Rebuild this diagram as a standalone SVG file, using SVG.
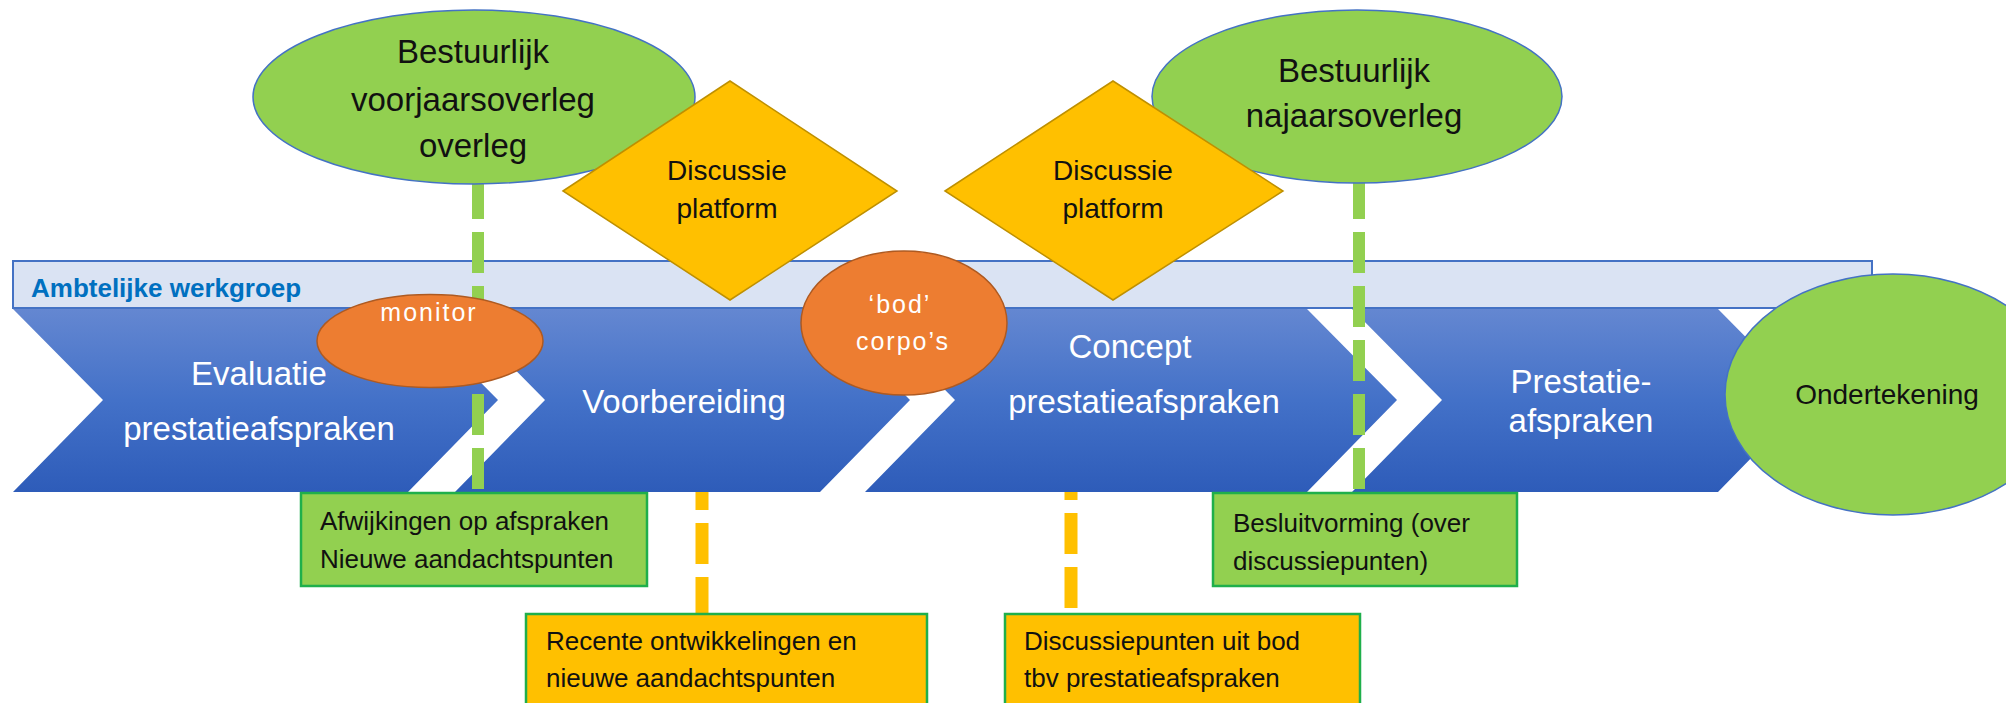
<svg xmlns="http://www.w3.org/2000/svg" width="2006" height="703" viewBox="0 0 2006 703">
<style>
  text { font-family: "Liberation Sans", Arial, sans-serif; }
  .green { fill: #92D050; stroke: #4472C4; stroke-width: 1.5; }
  .orange { fill: #ED7D31; stroke: #AE5A21; stroke-width: 1.5; }
  .diamond { fill: #FFC000; stroke: #BF9000; stroke-width: 1.5; }
  .chev { fill: url(#chevGrad); }
  .band { fill: #DAE3F3; stroke: #4472C4; stroke-width: 2; }
  .gbox { fill: #92D050; stroke: #1FAF4B; stroke-width: 2.5; }
  .ybox { fill: #FFC000; stroke: #1FAF4B; stroke-width: 2.5; }
  .title { font-size: 33px; fill: #111; text-anchor: middle; }
  .ctext { font-size: 33px; fill: #FFFFFF; text-anchor: middle; }
  .dtext { font-size: 28px; fill: #111; text-anchor: middle; }
  .otext { font-size: 25px; fill: #FFFFFF; text-anchor: middle; letter-spacing: 2px; }
  .btext { font-size: 26px; fill: #111; }
  .gline { stroke: #92D050; stroke-width: 12; stroke-dasharray: 41 13; fill: none; }
  .yline { stroke: #FFC000; stroke-width: 13; stroke-dasharray: 41 13; fill: none; }
</style>
<defs>
  <linearGradient id="chevGrad" gradientUnits="userSpaceOnUse" x1="0" y1="309" x2="0" y2="492">
    <stop offset="0" stop-color="#6487D1"/>
    <stop offset="0.5" stop-color="#4371C8"/>
    <stop offset="1" stop-color="#2E5CB9"/>
  </linearGradient>
</defs>
<rect width="2006" height="703" fill="#FFFFFF"/>

<g id="band">
  <rect class="band" x="13" y="261" width="1859" height="47"/>
  <text x="31" y="297" font-size="26" font-weight="bold" fill="#0070C0">Ambtelijke werkgroep</text>
</g>

<g id="chevron-evaluatie">
  <polygon class="chev" points="13,309 408,309 498,400 408,492 13,492 103,400"/>
  <text class="ctext" x="259" y="385">Evaluatie</text>
  <text class="ctext" x="259" y="440">prestatieafspraken</text>
</g>
<g id="chevron-voorbereiding">
  <polygon class="chev" points="455,309 820,309 910,400 820,492 455,492 545,400"/>
  <text class="ctext" x="684" y="413">Voorbereiding</text>
</g>
<g id="chevron-concept">
  <polygon class="chev" points="865,309 1307,309 1397,400 1307,492 865,492 955,400"/>
  <text class="ctext" x="1130" y="358">Concept</text>
  <text class="ctext" x="1144" y="413">prestatieafspraken</text>
</g>
<g id="chevron-prestatieafspraken">
  <polygon class="chev" points="1352,309 1718,309 1808,400 1718,492 1352,492 1442,400"/>
  <text class="ctext" x="1581" y="393">Prestatie-</text>
  <text class="ctext" x="1581" y="432">afspraken</text>
</g>

<g id="connectors">
  <line class="gline" x1="478" y1="178" x2="478" y2="489"/>
  <line class="gline" x1="1359" y1="178" x2="1359" y2="489"/>
  <line class="yline" x1="702" y1="492" x2="702" y2="614" stroke-dashoffset="23"/>
  <line class="yline" x1="1071" y1="492" x2="1071" y2="614" stroke-dashoffset="33"/>
</g>

<g id="voorjaarsoverleg">
  <ellipse class="green" cx="474" cy="97" rx="221" ry="87"/>
  <text class="title" x="473" y="63">Bestuurlijk</text>
  <text class="title" x="473" y="111">voorjaarsoverleg</text>
  <text class="title" x="473" y="157">overleg</text>
</g>
<g id="najaarsoverleg">
  <ellipse class="green" cx="1357" cy="96.5" rx="205" ry="86.5"/>
  <text class="title" x="1354" y="82">Bestuurlijk</text>
  <text class="title" x="1354" y="127">najaarsoverleg</text>
</g>

<g id="discussie-1">
  <polygon class="diamond" points="563,191 730,81 897,191 730,300"/>
  <text class="dtext" x="727" y="180">Discussie</text>
  <text class="dtext" x="727" y="218">platform</text>
</g>
<g id="discussie-2">
  <polygon class="diamond" points="945,191 1113,81 1283,191 1113,300"/>
  <text class="dtext" x="1113" y="180">Discussie</text>
  <text class="dtext" x="1113" y="218">platform</text>
</g>

<g id="monitor">
  <ellipse class="orange" cx="430" cy="341" rx="113" ry="46.5"/>
  <text class="otext" x="429" y="321">monitor</text>
</g>
<g id="bod">
  <ellipse class="orange" cx="904" cy="323" rx="103" ry="72"/>
  <text class="otext" x="900" y="313">‘bod’</text>
  <text class="otext" x="903" y="350">corpo’s</text>
</g>

<g id="ondertekening">
  <ellipse class="green" cx="1893" cy="394.5" rx="168" ry="120.5"/>
  <text class="dtext" x="1887" y="404">Ondertekening</text>
</g>

<g id="afwijkingen">
  <rect class="gbox" x="301" y="493" width="346" height="93"/>
  <text class="btext" x="320" y="530">Afwijkingen op afspraken</text>
  <text class="btext" x="320" y="568">Nieuwe aandachtspunten</text>
</g>
<g id="besluitvorming">
  <rect class="gbox" x="1213" y="493" width="304" height="93"/>
  <text class="btext" x="1233" y="532">Besluitvorming (over</text>
  <text class="btext" x="1233" y="570">discussiepunten)</text>
</g>
<g id="recente">
  <rect class="ybox" x="526" y="614" width="401" height="110"/>
  <text class="btext" x="546" y="650">Recente ontwikkelingen en</text>
  <text class="btext" x="546" y="687">nieuwe aandachtspunten</text>
</g>
<g id="discussiepunten">
  <rect class="ybox" x="1005" y="614" width="355" height="110"/>
  <text class="btext" x="1024" y="650">Discussiepunten uit bod</text>
  <text class="btext" x="1024" y="687">tbv prestatieafspraken</text>
</g>
</svg>
